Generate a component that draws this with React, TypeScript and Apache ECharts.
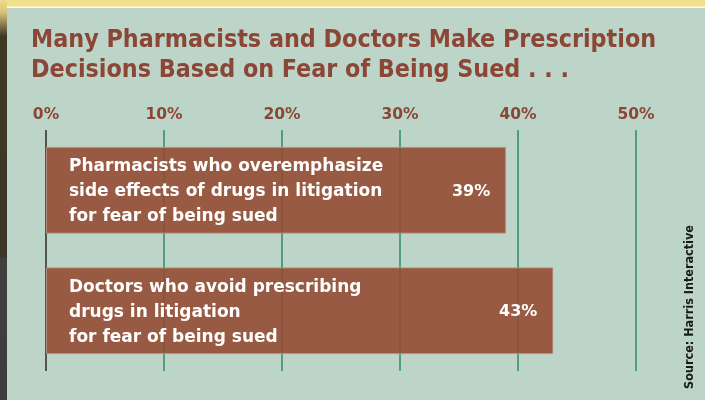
import React, { useEffect, useRef } from "react";
import * as echarts from "echarts";

const categories = [
  "Pharmacists who overemphasize\nside effects of drugs in litigation\nfor fear of being sued",
  "Doctors who avoid prescribing\ndrugs in litigation\nfor fear of being sued",
];
const values = [39, 43];
const axisMax = 50;
const axisInterval = 10;
const titleText = "Many Pharmacists and Doctors Make Prescription\nDecisions Based on Fear of Being Sued . . .";
const sourceText = "Source: Harris Interactive";

const FONT_C = "'DejaVu Sans Condensed', 'Liberation Sans Narrow', 'DejaVu Sans', sans-serif";
const FONT = "'DejaVu Sans', sans-serif";

export default function App() {
  const ref = useRef<HTMLDivElement>(null);
  useEffect(() => {
    if (!ref.current) return;
    const chart = echarts.init(ref.current, undefined, { renderer: "svg" });
    chart.setOption({
      animation: false,
      title: {
        text: titleText,
        left: 26,
        top: 18,
        textStyle: {
          fontFamily: FONT_C,
          fontWeight: 900,
          fontSize: 24.8,
          lineHeight: 30,
          color: "#8C4636",
        },
      },
      graphic: [
        { type: "rect", z: -10, silent: true, shape: { x: 0, y: 0, width: 705, height: 400 }, style: { fill: "#F1E08B" } },
        {
          type: "rect", z: -9, silent: true,
          shape: { x: 0, y: 0, width: 7, height: 400 },
          style: {
            fill: new echarts.graphic.LinearGradient(0, 0, 0, 1, [
              { offset: 0, color: "#EEDC88" },
              { offset: 0.03, color: "#D9C57A" },
              { offset: 0.09, color: "#3E3924" },
              { offset: 0.645, color: "#3B3724" },
              { offset: 0.646, color: "#404040" },
              { offset: 1, color: "#3D3D3D" },
            ]),
          },
        },
        { type: "rect", z: -9, silent: true, shape: { x: 7, y: 6.5, width: 698, height: 1.5 }, style: { fill: "#FFFBEA" } },
        { type: "rect", z: -9, silent: true, shape: { x: 7, y: 8, width: 698, height: 392 }, style: { fill: "#BDD5C9" } },
        {
          type: "text",
          z: 10,
          x: 688,
          y: 307,
          rotation: Math.PI / 2,
          style: {
            text: sourceText,
            fontFamily: FONT_C,
            fontWeight: "bold",
            fontSize: 12.5,
            fill: "#1A1A1A",
            align: "center",
            verticalAlign: "middle",
          },
        },
      ],
      grid: { left: 46, right: 69, top: 130, bottom: 29 },
      xAxis: {
        type: "value",
        position: "top",
        min: 0,
        max: axisMax,
        interval: axisInterval,
        axisLine: { show: false },
        axisTick: { show: false },
        axisLabel: {
          formatter: "{value}%",
          color: "#8C4636",
          fontFamily: FONT,
          fontWeight: "bold",
          fontSize: 15.5,
          margin: 8,
        },
        splitLine: {
          show: true,
          lineStyle: { color: ["#2B2B2B", "#2E8A68", "#2E8A68", "#2E8A68", "#2E8A68", "#2E8A68"], width: 1.5 },
        },
      },
      yAxis: {
        type: "category",
        inverse: true,
        data: categories,
        axisLine: { show: false },
        axisTick: { show: false },
        axisLabel: { show: false },
      },
      series: [
        {
          type: "bar",
          data: values,
          barWidth: "72%",
          itemStyle: { color: "rgba(147,77,52,0.9)", borderColor: "rgba(205,160,140,0.7)", borderWidth: 1 },
          label: {
            show: true,
            position: "insideRight",
            distance: 16,
            formatter: "{c}%",
            color: "#FFFFFF",
            fontFamily: FONT,
            fontWeight: "bold",
            fontSize: 16,
          },
        },
        {
          type: "bar",
          data: values,
          barWidth: "72%",
          barGap: "-100%",
          itemStyle: { color: "rgba(0,0,0,0)" },
          label: {
            show: true,
            position: "insideLeft",
            distance: 23,
            formatter: (p: any) => p.name,
            color: "#FFFFFF",
            fontFamily: FONT,
            fontWeight: "bold",
            fontSize: 17,
            lineHeight: 25,
            align: "left",
          },
        },
      ],
    });
    return () => chart.dispose();
  }, []);
  return <div ref={ref} style={{ position: "fixed", left: 0, top: 0, width: 705, height: 400 }} />;
}
